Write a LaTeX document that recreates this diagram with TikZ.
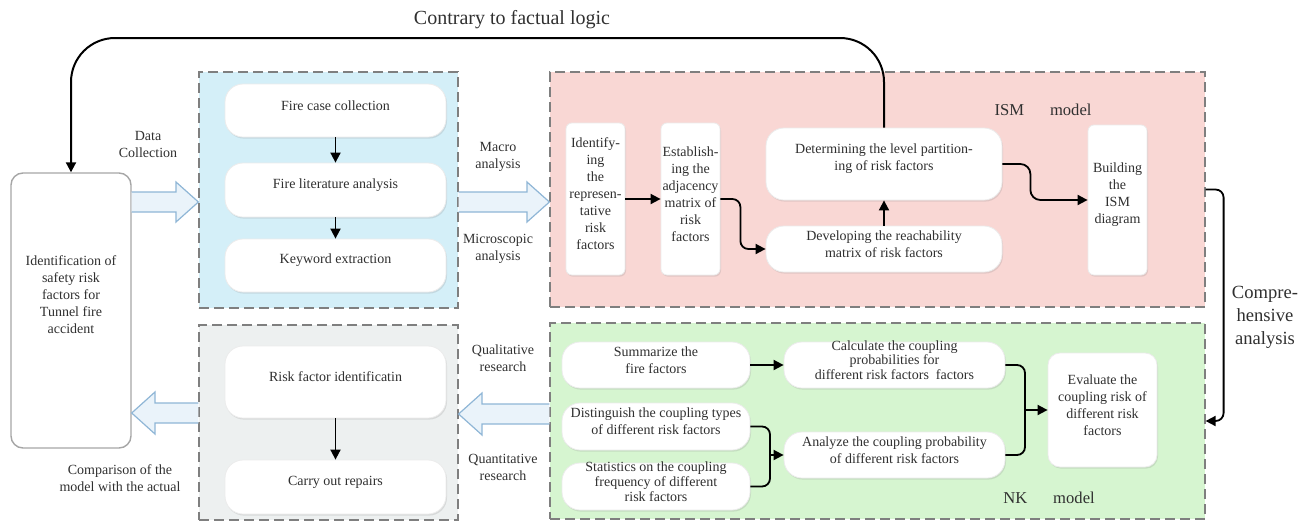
\documentclass[tikz,border=0pt]{standalone}
\usepackage{fontspec}
\setmainfont{Liberation Serif}
\usetikzlibrary{arrows.meta,fit,shadows}

\definecolor{bluebg}{HTML}{D4EFF8}
\definecolor{redbg}{HTML}{F9D7D4}
\definecolor{greenbg}{HTML}{D6F5D0}
\definecolor{graybg}{HTML}{EDF0F0}
\definecolor{framegray}{HTML}{7F7F7F}
\definecolor{arrowline}{HTML}{8FB6D6}
\definecolor{arrowfill}{HTML}{EAF3FA}
\definecolor{txtgray}{HTML}{303030}

\begin{document}
\begin{tikzpicture}[x=0.5pt, y=-0.5pt,
    region/.style={draw=framegray, line width=0.6pt, dash pattern=on 5pt off 2.5pt, inner sep=0pt},
    card/.style={fill=white, draw=gray!15, rounded corners=9pt, inner sep=0pt, align=center, text=txtgray,
        font=\fontsize{7}{8.5}\selectfont, drop shadow={opacity=0.2, shadow xshift=0.5pt, shadow yshift=-0.8pt}},
    slim/.style={card, rounded corners=3pt},
    tight/.style={font=\fontsize{7}{5.6}\selectfont},
    lbl/.style={align=center, text=txtgray, font=\fontsize{7}{8.5}\selectfont},
    link/.style={line width=0.9pt, -{Triangle[length=5pt, width=5pt]}},
    brace/.style={line width=0.9pt, rounded corners=4pt},
    hollow/.style={draw=arrowline, fill=arrowfill, line width=0.6pt, line join=miter}]

    \useasboundingbox (0,0) rectangle (1313,525);

    % Background regions
    \node[region, fill=bluebg, fit={(199,72) (458,308)}] (blue) {};
    \node[region, fill=graybg, fit={(199,325) (458,520)}] (gray) {};
    \node[region, fill=redbg, fit={(550,72) (1205,307)}] (red) {};
    \node[region, fill=greenbg, fit={(550,323) (1205,519)}] (green) {};

    % Starting box
    \node[draw=gray!70, fill=white, line width=0.7pt, rounded corners=6pt, inner sep=0pt, fit={(11,173) (131,448)}] (ident) {};
    \node[lbl] (identtxt) at (71,295) {Identification of\\safety risk\\factors for\\Tunnel fire\\accident};

    % Data collection steps
    \node[card, fit={(225,84) (446,137)}] (case) {Fire case collection};
    \node[card, fit={(225,163) (446,217)}] (lit) {Fire literature analysis};
    \node[card, fit={(225,239) (446,292)}] (kw) {Keyword extraction};

    % Repair steps
    \node[card, fit={(225,346) (446,418)}] (riskid) {Risk factor identificatin};
    \node[card, fit={(225,460) (446,514)}] (repair) {Carry out repairs};

    % ISM model
    \node[slim, fit={(566,123) (625,275)}] (repres) {Identify-\\ing\\the\\represen-\\tative\\risk\\factors};
    \node[slim, fit={(661,123) (720,275)}] (adjac) {Establish-\\ing the\\adjacency\\matrix of\\risk\\factors};
    \node[card, fit={(766,128) (1002,200)}] (level) {Determining the level partition-\\ing of risk factors};
    \node[card, fit={(766,226) (1002,272)}] (reach) {Developing the reachability\\matrix of risk factors};
    \node[slim, fit={(1088,125) (1147,275)}] (ismd) {Building\\the\\ISM\\diagram};
    \node[text=txtgray, font=\fontsize{8.3}{10}\selectfont] (ismlbl) at (1043,110) {ISM\hspace{13pt}model};

    % NK model
    \node[card, fit={(562,342) (750,388)}] (summ) {Summarize the\\fire factors};
    \node[card, tight, fit={(784,342) (1005,388)}] (calc) {Calculate the coupling\\probabilities for\\different risk factors\ \ factors};
    \node[card, fit={(562,403) (750,450)}] (dist) {Distinguish the coupling types\\of different risk factors};
    \node[card, tight, fit={(562,463) (750,510)}] (stat) {Statistics on the coupling\\frequency of different\\risk factors};
    \node[card, fit={(784,432) (1005,478)}] (anal) {Analyze the coupling probability\\of different risk factors};
    \node[card, rounded corners=6pt, fit={(1048,353) (1157,467)}] (evalr) {Evaluate the\\coupling risk of\\different risk\\factors};
    \node[text=txtgray, font=\fontsize{8.3}{10}\selectfont] (nklbl) at (1049,498) {NK\hspace{13pt}model};

    % Hollow arrows between regions
    \draw[hollow] (ident.east |- 0,192) -- (176,192) -- (176,182) -- (blue.west |- 0,202) -- (176,222) -- (176,212) -- (ident.east |- 0,212);
    \draw[hollow] (blue.east |- 0,192) -- (527,192) -- (527,182) -- (red.west |- 0,202) -- (527,222) -- (527,212) -- (blue.east |- 0,212);
    \draw[hollow] (green.west |- 0,404) -- (482,404) -- (482,393) -- (gray.east |- 0,414) -- (482,435) -- (482,424) -- (green.west |- 0,424);
    \draw[hollow] (gray.west |- 0,403) -- (155,403) -- (155,392) -- (ident.east |- 0,413) -- (155,434) -- (155,423) -- (gray.west |- 0,423);

    % Labels of the hollow arrows
    \node[lbl] (datacol) at (148,144) {Data\\Collection};
    \node[lbl] (macro) at (498,157) {Macro\\analysis};
    \node[lbl] (micro) at (498,249) {Microscopic\\analysis};
    \node[lbl] (quali) at (503,358) {Qualitative\\research};
    \node[lbl] (quanti) at (503,467) {Quantitative\\research};
    \node[lbl] (compar) at (120,478) {Comparison of the\\model with the actual};

    % Arrows inside the regions
    \draw[link] (case) -- (lit);
    \draw[link] (lit) -- (kw);
    \draw[link] (riskid) -- (repair);
    \draw[link] (repres) -- (adjac);
    \draw[link, rounded corners=4pt] (adjac.east) -- ++(20,0) |- (reach.west);
    \draw[link] (reach) -- (level);
    \draw[link, rounded corners=5pt] (level.east) -- ++(28,0) |- (ismd.west);
    \draw[link] (summ) -- (calc);

    % Brackets of the NK model
    \coordinate (lbr) at (770,455);
    \draw[brace] (dist.east) -| (lbr) |- (stat.east);
    \draw[link] (lbr) -- (anal.west);
    \coordinate (rbr) at (1025,410);
    \draw[brace] (calc.east) -| (rbr) |- (anal.east);
    \draw[link] (rbr) -- (evalr.west);

    % Feedback loop and comprehensive analysis
    \coordinate (loop) at (0,38);
    \draw[link, line width=1pt, rounded corners=22pt] (level.north) |- (ident.north |- loop) -- (ident.north);
    \node[text=txtgray, font=\fontsize{10}{12}\selectfont] (title) at (512,20) {Contrary to factual logic};
    \draw[link, rounded corners=4pt] (red.east) -- ++(18,0) |- (green.east);
    \node[lbl, font=\fontsize{9.3}{11.5}\selectfont] (compre) at (1265,317) {Compre-\\hensive\\analysis};

\end{tikzpicture}
\end{document}
